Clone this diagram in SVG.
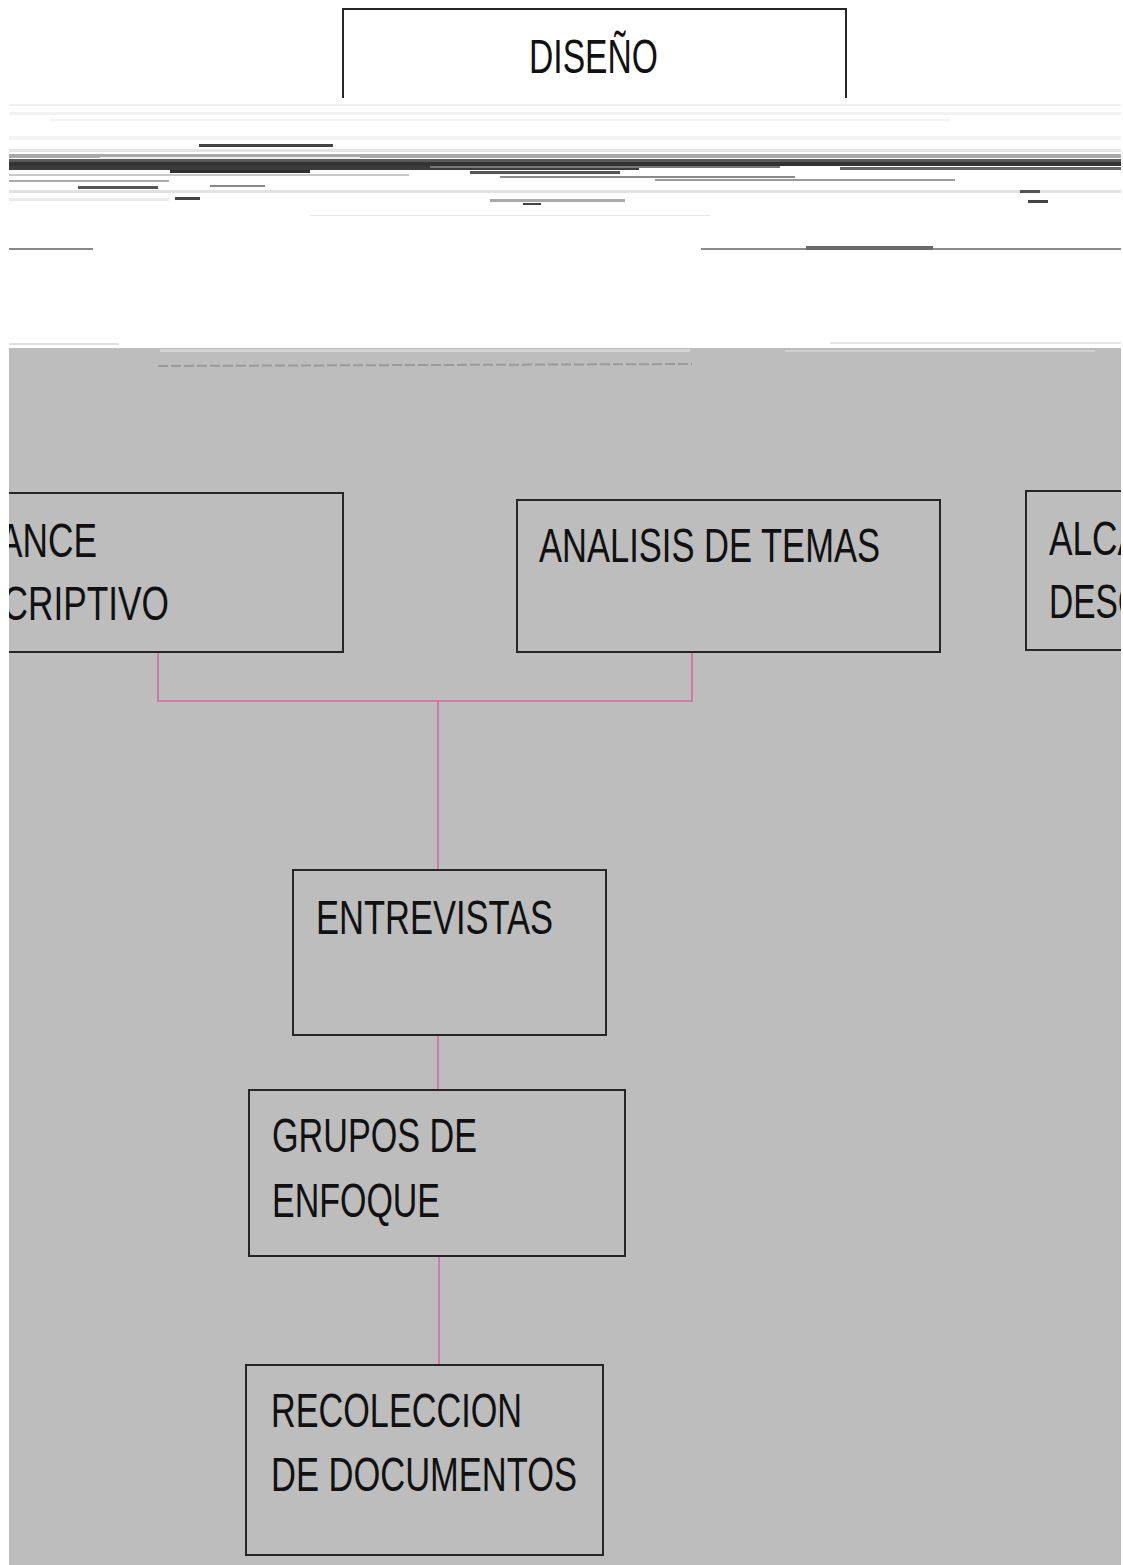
<svg xmlns="http://www.w3.org/2000/svg" width="1123" height="1565" viewBox="0 0 1123 1565">
<style>
.box{fill:none;stroke:#262626;stroke-width:2}
.lbl{font-family:"Liberation Sans",Arial,sans-serif;font-size:49px;fill:#111}
.con{fill:none;stroke:#d46a9e;stroke-width:1.6}
</style>
<defs>
<clipPath id="page"><rect x="9" y="0" width="1112" height="1565"/></clipPath>
</defs>
<rect x="0" y="0" width="1123" height="1565" fill="#ffffff"/>
<g clip-path="url(#page)">
<rect x="9" y="348" width="1114" height="1217" fill="#bdbdbd"/>
<g id="noise">
<rect x="9" y="104" width="1114" height="2" fill="#f0f0f0"/>
<rect x="9" y="112" width="1114" height="3" fill="#f2f2f2"/>
<rect x="50" y="119" width="900" height="2" fill="#f3f3f3"/>
<rect x="9" y="136" width="1114" height="4" fill="#f4f4f4"/>
<rect x="199" y="144" width="134" height="3" fill="#444"/>
<rect x="9" y="149" width="1114" height="3" fill="#e4e4e4"/>
<rect x="9" y="154" width="1114" height="4" fill="#a9a9a9"/>
<rect x="100" y="157" width="260" height="2" fill="#eee"/>
<rect x="9" y="159" width="1114" height="3" fill="#5a5a5a"/>
<rect x="9" y="162" width="1114" height="4" fill="#333"/>
<rect x="9" y="166" width="630" height="4" fill="#3c3c3c"/>
<rect x="430" y="166" width="350" height="2" fill="#777"/>
<rect x="840" y="167" width="283" height="3" fill="#666"/>
<rect x="170" y="170" width="140" height="3" fill="#2f2f2f"/>
<rect x="470" y="171" width="150" height="3" fill="#555"/>
<rect x="9" y="174" width="400" height="2" fill="#c9c9c9"/>
<rect x="500" y="176" width="295" height="2" fill="#8a8a8a"/>
<rect x="9" y="180" width="160" height="2" fill="#aaa"/>
<rect x="655" y="179" width="300" height="2" fill="#999"/>
<rect x="78" y="186" width="80" height="3" fill="#555"/>
<rect x="210" y="185" width="55" height="2" fill="#888"/>
<rect x="9" y="190" width="1114" height="3" fill="#e2e2e2"/>
<rect x="175" y="197" width="25" height="3" fill="#444"/>
<rect x="490" y="199" width="135" height="3" fill="#aaa"/>
<rect x="9" y="198" width="160" height="3" fill="#ebebeb"/>
<rect x="523" y="203" width="18" height="2" fill="#444"/>
<rect x="1028" y="200" width="20" height="3" fill="#444"/>
<rect x="1020" y="190" width="20" height="3" fill="#555"/>
<rect x="310" y="215" width="400" height="1" fill="#e6e6e6"/>
<rect x="9" y="248" width="84" height="2" fill="#888"/>
<rect x="701" y="248" width="422" height="2" fill="#8a8a8a"/>
<rect x="806" y="246" width="127" height="4" fill="#6a6a6a"/>
<rect x="9" y="343" width="110" height="2" fill="#e0e0e0"/>
<rect x="830" y="342" width="293" height="2" fill="#e6e6e6"/>
<rect x="160" y="349" width="530" height="3" fill="#d4d4d4"/>
<rect x="785" y="350" width="310" height="2" fill="#cfcfcf"/>
<line x1="158" y1="366" x2="692" y2="364" stroke="#9a9a9a" stroke-width="2" stroke-dasharray="10 3"/>
</g>
<g id="node-diseno">
<path class="box" d="M343 98 V9 H846 V98"/>
<text class="lbl" x="529" y="73" textLength="129" lengthAdjust="spacingAndGlyphs">DISEÑO</text>
</g>
<g id="node-alcance-left">
<path class="box" d="M0 493 H343 V652 H0"/>
<text class="lbl" x="-1" y="557" textLength="98" lengthAdjust="spacingAndGlyphs">ANCE</text>
<text class="lbl" x="2.5" y="620" textLength="166.5" lengthAdjust="spacingAndGlyphs">CRIPTIVO</text>
</g>
<g id="node-analisis">
<rect class="box" x="517" y="500" width="423" height="152"/>
<text class="lbl" x="539" y="562" textLength="341" lengthAdjust="spacingAndGlyphs">ANALISIS DE TEMAS</text>
</g>
<g id="node-alcance-right">
<path class="box" d="M1130 491 H1026 V650 H1130"/>
<text class="lbl" x="1049" y="555" textLength="92" lengthAdjust="spacingAndGlyphs">ALCA</text>
<text class="lbl" x="1049" y="618" textLength="93" lengthAdjust="spacingAndGlyphs">DESC</text>
</g>
<g id="node-entrevistas">
<rect class="box" x="293" y="870" width="313" height="165"/>
<text class="lbl" x="316" y="934" textLength="237" lengthAdjust="spacingAndGlyphs">ENTREVISTAS</text>
</g>
<g id="node-grupos">
<rect class="box" x="249" y="1090" width="376" height="166"/>
<text class="lbl" x="272" y="1152" textLength="205" lengthAdjust="spacingAndGlyphs">GRUPOS DE</text>
<text class="lbl" x="272" y="1217" textLength="168" lengthAdjust="spacingAndGlyphs">ENFOQUE</text>
</g>
<g id="node-recoleccion">
<rect class="box" x="246" y="1365" width="357" height="190"/>
<text class="lbl" x="271" y="1427" textLength="251" lengthAdjust="spacingAndGlyphs">RECOLECCION</text>
<text class="lbl" x="271" y="1491" textLength="306" lengthAdjust="spacingAndGlyphs">DE DOCUMENTOS</text>
</g>
<g id="connectors">
<path class="con" d="M158 653 V701 H692 V653"/>
<path class="con" d="M438 701 V869"/>
<path class="con" d="M438 1036 V1089"/>
<path class="con" d="M439 1257 V1364"/>
</g>
</g>
</svg>
